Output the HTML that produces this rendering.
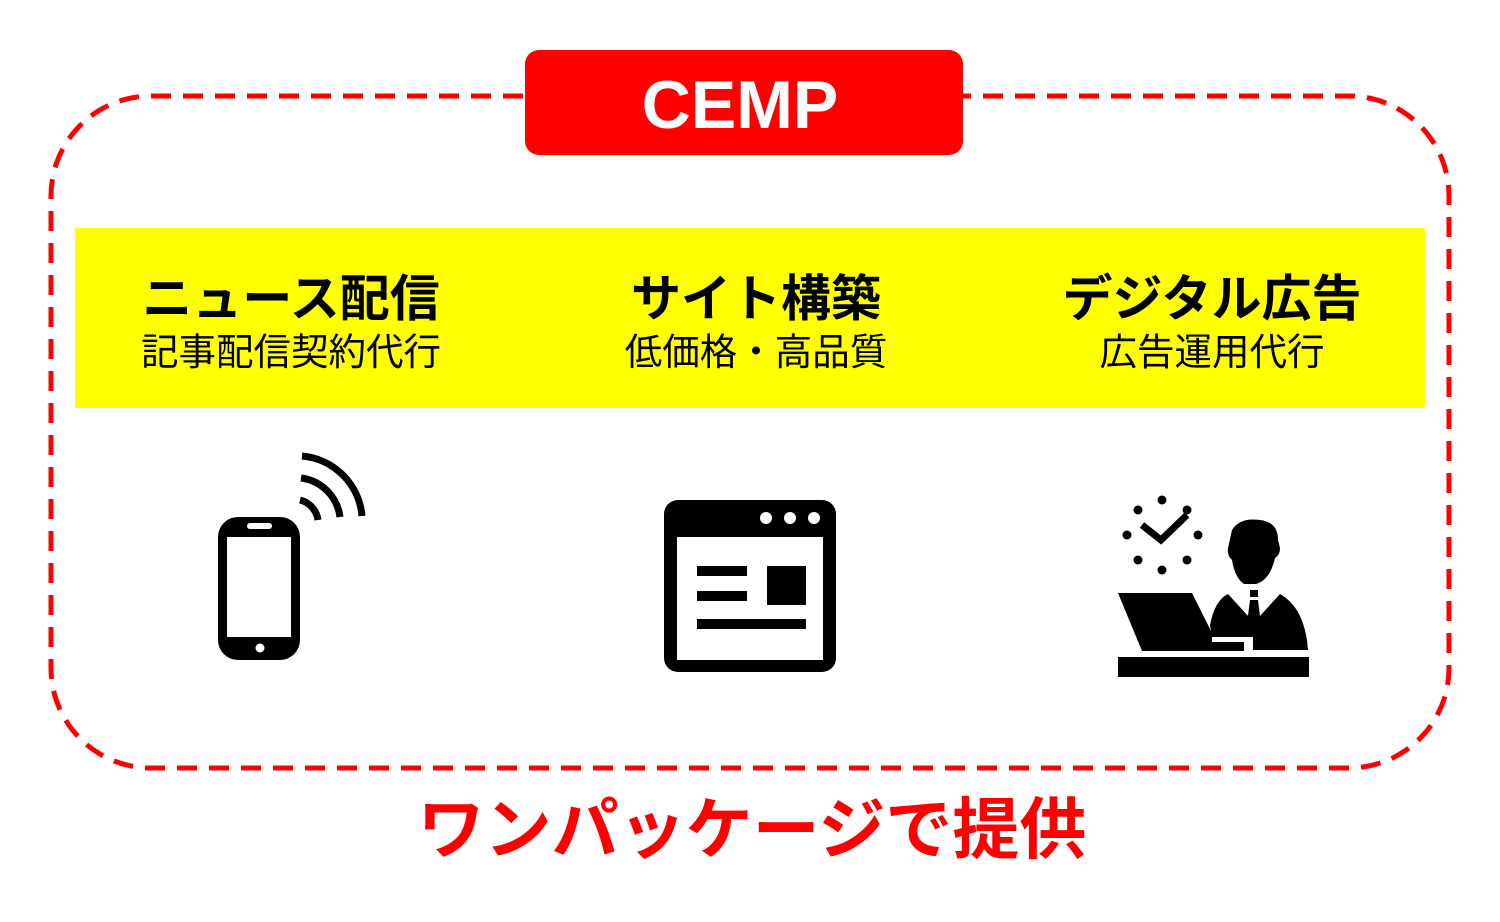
<!DOCTYPE html>
<html><head><meta charset="utf-8"><style>
html,body{margin:0;padding:0;background:#fff;}
svg text{font-family:"Liberation Sans","Noto Sans CJK JP",sans-serif;}
</style></head><body>
<svg width="1500" height="917" viewBox="0 0 1500 917" xmlns="http://www.w3.org/2000/svg">
<rect x="51" y="96" width="1398" height="672" rx="100" ry="100" fill="none" stroke="#f00" stroke-width="5" stroke-dasharray="20 12"/>
<rect x="525" y="50" width="438" height="105" rx="14" fill="#f00"/>
<text x="740" y="128" font-size="68" font-weight="bold" fill="#fff" text-anchor="middle">CEMP</text>
<rect x="75" y="228" width="1350" height="180" fill="#ffff00"/>
<g font-weight="bold" font-size="50" text-anchor="middle" fill="#000">
<text x="291" y="316">ニュース配信</text>
<text x="756" y="316">サイト構築</text>
<text x="1212" y="316">デジタル広告</text>
</g>
<g font-size="37.5" text-anchor="middle" fill="#000">
<text x="291" y="365">記事配信契約代行</text>
<text x="756" y="365">低価格・高品質</text>
<text x="1212" y="365">広告運用代行</text>
</g>
<!-- phone -->
<rect x="218" y="517" width="82" height="143" rx="20" fill="#000"/>
<rect x="227" y="537" width="64" height="100" fill="#fff"/>
<rect x="247" y="523" width="25" height="6" rx="3" fill="#fff"/>
<circle cx="260" cy="648" r="4.5" fill="#fff"/>
<g fill="none" stroke="#000" stroke-width="7">
<path d="M300 500 A24 24 0 0 1 318 520"/>
<path d="M301 478 A45 45 0 0 1 340 517"/>
<path d="M302 456 A66 66 0 0 1 362 516"/>
</g>
<!-- browser -->
<rect x="664" y="500" width="172" height="172" rx="14" fill="#000"/>
<rect x="677" y="537" width="146" height="123" fill="#fff"/>
<circle cx="766" cy="518" r="6" fill="#fff"/>
<circle cx="790" cy="518" r="6" fill="#fff"/>
<circle cx="814" cy="518" r="6" fill="#fff"/>
<rect x="697" y="566" width="50" height="10" fill="#000"/>
<rect x="697" y="591" width="50" height="10" fill="#000"/>
<rect x="767" y="566" width="39" height="39" fill="#000"/>
<rect x="697" y="619" width="109" height="10" fill="#000"/>
<!-- person -->
<g fill="#000">
<circle cx="1162" cy="500" r="4.5"/><circle cx="1138" cy="510" r="4.5"/><circle cx="1187" cy="510" r="4.5"/>
<circle cx="1127" cy="535" r="4.5"/><circle cx="1198" cy="535" r="4.5"/>
<circle cx="1138" cy="560" r="4.5"/><circle cx="1187" cy="560" r="4.5"/><circle cx="1162" cy="570" r="4.5"/>
</g>
<path d="M1142 525 L1161 540 L1187 515" fill="none" stroke="#000" stroke-width="7"/>
<path d="M1232 530 Q1240 517 1260 520 Q1278 522 1278 540 L1280 548 Q1280 555 1275 558 Q1270 580 1256 584 L1244 584 Q1235 578 1232 560 Q1227 556 1228 548 Z" fill="#000"/>
<rect x="1250" y="590" width="8" height="7" fill="#000"/>
<path d="M1228 594 L1248 616 L1250 600 L1258 600 L1260 616 L1280 594 Q1305 608 1308 650 L1253 650 L1253 637 L1212 637 L1210 625 Q1215 600 1228 594 Z" fill="#000"/>
<path d="M1118 593 L1192 593 L1212 633 L1212 642 L1244 642 L1244 651 L1142 651 Z" fill="#000"/>
<rect x="1118" y="657" width="191" height="20" fill="#000"/>
<text x="752" y="853" font-size="67" font-weight="bold" text-anchor="middle" style="fill:#f00">ワンパッケージで提供</text>
</svg>
</body></html>
